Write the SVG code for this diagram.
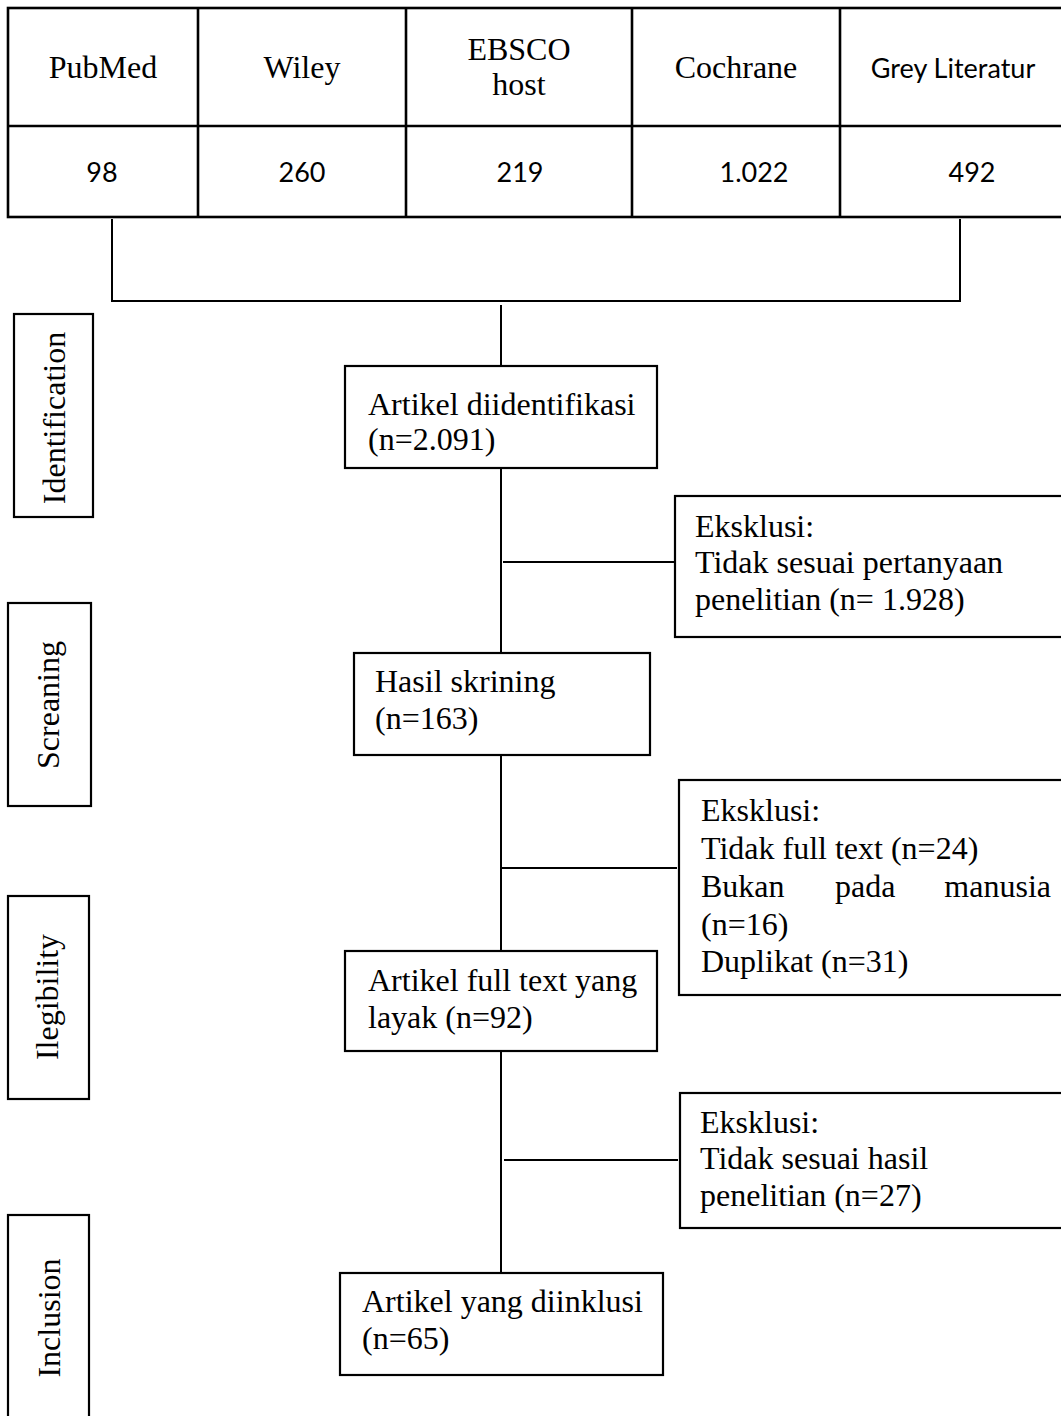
<svg xmlns="http://www.w3.org/2000/svg" width="1061" height="1416" viewBox="0 0 1061 1416">
<style>
.ln{stroke:#000;stroke-width:2;fill:none}
.bx{stroke:#000;stroke-width:2.2;fill:#fff}
.tb{stroke:#000;stroke-width:2.6;fill:none}
.s{font-family:"Liberation Serif","Times New Roman",serif;font-size:32px;fill:#000}
.c{font-family:Lato,"Open Sans","Liberation Sans",sans-serif;font-size:27px;fill:#000}
.m{text-anchor:middle}
</style>
<rect width="1061" height="1416" fill="#fff"/>
<g id="sources">
<rect class="tb" x="8" y="8" width="1080" height="209"/>
<line class="tb" x1="8" y1="126" x2="1088" y2="126"/>
<line class="tb" x1="198" y1="8" x2="198" y2="217"/>
<line class="tb" x1="406" y1="8" x2="406" y2="217"/>
<line class="tb" x1="632" y1="8" x2="632" y2="217"/>
<line class="tb" x1="840" y1="8" x2="840" y2="217"/>
<text class="s m" x="103" y="78">PubMed</text>
<text class="s m" x="302" y="78">Wiley</text>
<text class="s m" x="519" y="60">EBSCO</text>
<text class="s m" x="519" y="95">host</text>
<text class="s m" x="736" y="78">Cochrane</text>
<text class="c m" x="953" y="78">Grey Literatur</text>
<text class="c m" x="102" y="182">98</text>
<text class="c m" x="302" y="182">260</text>
<text class="c m" x="520" y="182">219</text>
<text class="c m" x="754" y="182">1.022</text>
<text class="c m" x="972" y="182">492</text>
</g>
<g id="connectors">
<polyline class="ln" points="112,219 112,301 960,301 960,219"/>
<line class="ln" x1="501" y1="305" x2="501" y2="366"/>
<line class="ln" x1="501" y1="468" x2="501" y2="653"/>
<line class="ln" x1="503" y1="562" x2="675" y2="562"/>
<line class="ln" x1="501" y1="755" x2="501" y2="951"/>
<line class="ln" x1="502" y1="868" x2="677" y2="868"/>
<line class="ln" x1="501" y1="1051" x2="501" y2="1273"/>
<line class="ln" x1="504" y1="1160" x2="678" y2="1160"/>
</g>
<g id="stage-identification">
<rect class="bx" x="14" y="314" width="79" height="203"/>
<text class="s m" transform="translate(65,418) rotate(-90)">Identification</text>
</g>
<g id="stage-screaning">
<rect class="bx" x="8" y="603" width="83" height="203"/>
<text class="s m" transform="translate(59,705) rotate(-90)">Screaning</text>
</g>
<g id="stage-ilegibility">
<rect class="bx" x="8" y="896" width="81" height="203"/>
<text class="s m" transform="translate(58,997) rotate(-90)">Ilegibility</text>
</g>
<g id="stage-inclusion">
<rect class="bx" x="8" y="1215" width="81" height="215"/>
<text class="s m" transform="translate(60,1318) rotate(-90)">Inclusion</text>
</g>
<g id="identified">
<rect class="bx" x="345" y="366" width="312" height="102"/>
<text class="s" x="368" y="415">Artikel diidentifikasi</text>
<text class="s" x="368" y="450">(n=2.091)</text>
</g>
<g id="exclusion-1">
<rect class="bx" x="675" y="496" width="400" height="141"/>
<text class="s" x="695" y="537">Eksklusi:</text>
<text class="s" x="695" y="573">Tidak sesuai pertanyaan</text>
<text class="s" x="695" y="610">penelitian (n= 1.928)</text>
</g>
<g id="screened">
<rect class="bx" x="354" y="653" width="296" height="102"/>
<text class="s" x="375" y="692">Hasil skrining</text>
<text class="s" x="375" y="729">(n=163)</text>
</g>
<g id="exclusion-2">
<rect class="bx" x="679" y="780" width="400" height="215"/>
<text class="s" x="701" y="821">Eksklusi:</text>
<text class="s" x="701" y="859">Tidak full text (n=24)</text>
<text class="s" x="701" y="897">Bukan</text>
<text class="s" x="835" y="897">pada</text>
<text class="s" x="1051" y="897" text-anchor="end">manusia</text>
<text class="s" x="701" y="935">(n=16)</text>
<text class="s" x="701" y="972">Duplikat (n=31)</text>
</g>
<g id="eligible">
<rect class="bx" x="345" y="951" width="312" height="100"/>
<text class="s" x="368" y="991">Artikel full text yang</text>
<text class="s" x="368" y="1028">layak (n=92)</text>
</g>
<g id="exclusion-3">
<rect class="bx" x="680" y="1093" width="400" height="135"/>
<text class="s" x="700" y="1133">Eksklusi:</text>
<text class="s" x="700" y="1169">Tidak sesuai hasil</text>
<text class="s" x="700" y="1206">penelitian (n=27)</text>
</g>
<g id="included">
<rect class="bx" x="340" y="1273" width="323" height="102"/>
<text class="s" x="362" y="1312">Artikel yang diinklusi</text>
<text class="s" x="362" y="1349">(n=65)</text>
</g>
</svg>
